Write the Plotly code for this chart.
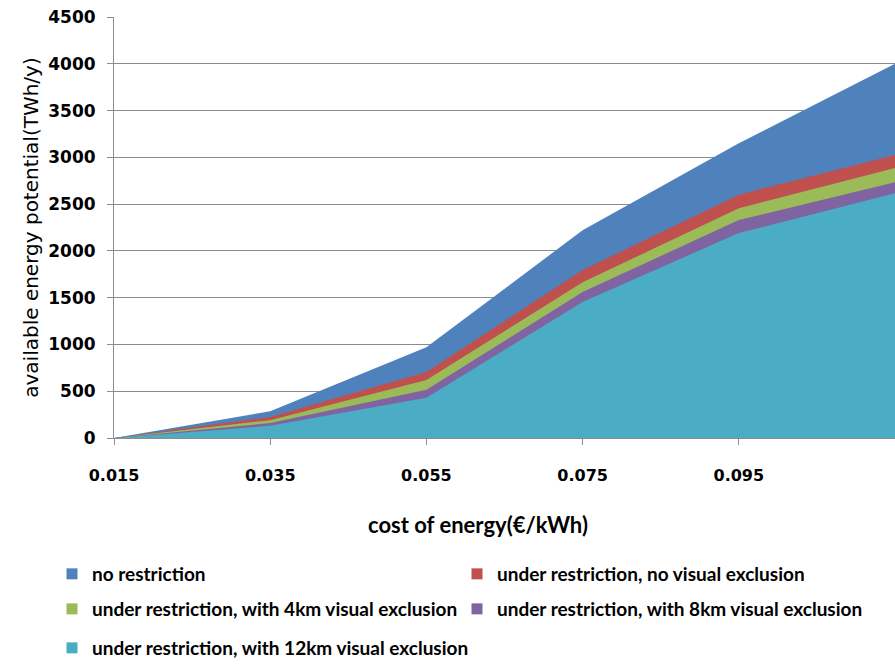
import plotly.graph_objects as go

cost = [0.015, 0.035, 0.055, 0.075, 0.095, 0.115]
tick_labels = ["0.015", "0.035", "0.055", "0.075", "0.095"]
no_restriction = [0, 285, 970, 2220, 3150, 4000]
no_visual = [0, 225, 705, 1795, 2600, 3025]
visual_4km = [0, 190, 620, 1665, 2455, 2885]
visual_8km = [0, 160, 515, 1560, 2330, 2735]
visual_12km = [0, 130, 430, 1455, 2190, 2615]

names = [
    "no restriction",
    "under restriction, no visual exclusion",
    "under restriction, with 4km visual exclusion",
    "under restriction, with 8km visual exclusion",
    "under restriction, with 12km visual exclusion",
]
series = [no_restriction, no_visual, visual_4km, visual_8km, visual_12km]
colors = ["#4F81BD", "#C0504D", "#9BBB59", "#8064A2", "#4BACC6"]
legend_ids = ["legend", "legend", "legend2", "legend2", "legend3"]

W, H = 895, 664
L, T, PH = 114, 17, 421
B = H - T - PH

fig = go.Figure()
for name, vals, col in zip(names, series, colors):
    fig.add_trace(go.Scatter(
        x=cost, y=vals, mode="lines", line=dict(width=0, color=col),
        fill="tozeroy", fillcolor=col, showlegend=False, hoverinfo="skip"))

for name, col, lg in zip(names, colors, legend_ids):
    fig.add_trace(go.Scatter(
        x=[None], y=[None], mode="markers", name=name, legend=lg,
        marker=dict(symbol="square", size=11, color=col)))

legend_font = dict(family="Lato", size=19, color="#000000", weight="bold")
def mk_legend(ypx, ew=360):
    return dict(orientation="h", x=(92 - 40 - L) / 781, xanchor="left",
                y=(438 - ypx) / PH, yanchor="middle",
                entrywidth=ew, font=legend_font, bgcolor="rgba(0,0,0,0)",
                itemclick=False)

fig.update_layout(
    width=W, height=H,
    margin=dict(l=L, r=0, t=T, b=B, autoexpand=False),
    paper_bgcolor="white", plot_bgcolor="white",
    legend=mk_legend(574),
    legend2=mk_legend(609),
    legend3=mk_legend(648, 500),
    xaxis=dict(
        range=[0.015, 0.115], tickvals=cost[:5], ticktext=tick_labels,
        showgrid=False, showline=True, linecolor="#8c8c8c", linewidth=1,
        ticks="outside", ticklen=6, tickcolor="#8c8c8c",
        ticklabelstandoff=17,
        tickfont=dict(family="DejaVu Sans", size=16, color="#000000", weight="bold"),
        zeroline=False,
    ),
    yaxis=dict(
        range=[0, 4500], dtick=500, showgrid=True, gridcolor="#8c8c8c", gridwidth=1,
        showline=True, linecolor="#8c8c8c", linewidth=1,
        ticks="outside", ticklen=6, tickcolor="#8c8c8c",
        ticklabelstandoff=8, ticklabeloverflow="allow",
        tickfont=dict(family="DejaVu Sans", size=17, color="#000000", weight="bold"),
        title=dict(text="available energy potential(TWh/y)", standoff=4,
                   font=dict(family="DejaVu Sans", size=20, color="#000000")),
        zeroline=False,
    ),
    annotations=[dict(
        text="cost of energy(€/kWh)", xref="paper", yref="paper",
        x=(478 - L) / 781, y=(438 - 524) / PH, xanchor="center", yanchor="middle",
        showarrow=False,
        font=dict(family="Lato", size=22, color="#000000", weight="bold"))],
)

fig.write_html("out.html", config={"displayModeBar": False},
               post_script="document.body.style.margin='0';document.body.style.overflow='hidden';")
